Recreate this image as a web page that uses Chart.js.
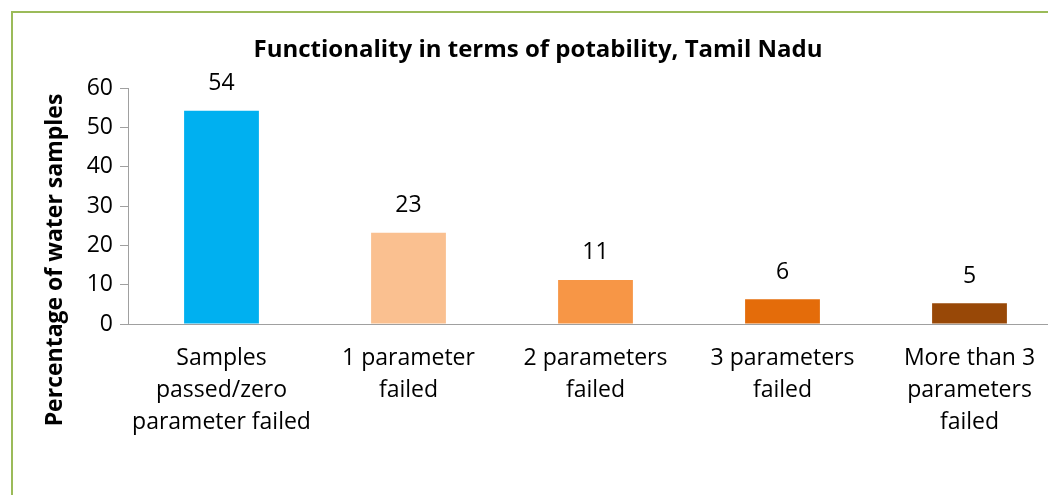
<!DOCTYPE html>
<html>
<head>
<meta charset="utf-8">
<script src="https://cdn.jsdelivr.net/npm/chart.js@4.4.0/dist/chart.umd.min.js"></script>
<style>
    html, body { margin: 0; padding: 0; background: #fff; overflow: hidden; }
    #frame {
        position: absolute; left: 11px; top: 11px; width: 1100px; height: 600px;
        border-top: 2px solid #9bbb59; border-left: 2px solid #9bbb59;
    }
    #wrap { position: absolute; left: 0; top: 0; width: 1076px; height: 495px; }
</style>
</head>
<body>
<div id="frame"></div>
<div id="wrap"><canvas id="chartContainer" width="1076" height="495"></canvas></div>
<script>
const categories = [
    ["Samples", "passed/zero", "parameter failed"],
    ["1 parameter", "failed"],
    ["2 parameters", "failed"],
    ["3 parameters", "failed"],
    ["More than 3", "parameters", "failed"],
];
const values = [54.2, 23.2, 11.2, 6.3, 5.3];
const barColors = ["#00b0f0", "#fac090", "#f79646", "#e46c0a", "#984807"];
const yTicks = [0, 10, 20, 30, 40, 50, 60];
const chartTitle = "Functionality in terms of potability, Tamil Nadu";
const yTitle = "Percentage of water samples";

const fontFamily = "'Open Sans', sans-serif";
const axisGray = "#a0a0a0";

// numbers above the bars
const barLabels = {
    id: "barLabels",
    afterDatasetsDraw(chart) {
        const ctx = chart.ctx;
        const meta = chart.getDatasetMeta(0);
        ctx.save();
        ctx.font = "23px " + fontFamily;
        ctx.fillStyle = "#000";
        ctx.textAlign = "center";
        ctx.textBaseline = "middle";
        meta.data.forEach((bar, i) => {
            ctx.fillText(String(Math.round(values[i])), bar.x, bar.y - 27);
        });
        ctx.restore();
    },
};

// rotated y axis title (excel centres it lower than chart.js would)
const yAxisTitle = {
    id: "yAxisTitle",
    afterDraw(chart) {
        const ctx = chart.ctx;
        ctx.save();
        ctx.translate(55, 260);
        ctx.rotate(-Math.PI / 2);
        ctx.font = "bold 23px " + fontFamily;
        ctx.fillStyle = "#000";
        ctx.textAlign = "center";
        ctx.textBaseline = "middle";
        ctx.fillText(yTitle, 0, 0);
        ctx.restore();
    },
};

const ctx = document.getElementById("chartContainer");
const chart = new Chart(ctx, {
    type: "bar",
    data: {
        labels: categories,
        datasets: [
            {
                data: values,
                backgroundColor: barColors,
                borderWidth: 0,
                barPercentage: 0.4,
                categoryPercentage: 1.0,
            },
        ],
    },
    options: {
        responsive: false,
        animation: false,
        devicePixelRatio: 1,
        layout: { padding: { left: 13, right: 13, top: 12, bottom: 0 } },
        plugins: {
            legend: { display: false },
            tooltip: { enabled: false },
            title: {
                display: true,
                text: chartTitle,
                color: "#000",
                font: { family: fontFamily, size: 24, weight: "bold", lineHeight: 1.2 },
                padding: { top: 24, bottom: 23.2 },
            },
        },
        scales: {
            x: {
                grid: { display: false, drawTicks: false },
                border: { display: true, color: axisGray, width: 1 },
                ticks: {
                    color: "#000",
                    font: { family: fontFamily, size: 23, lineHeight: 1.4 },
                    padding: 18,
                    maxRotation: 0,
                    autoSkip: false,
                },
                afterFit(scale) {
                    scale.height = 171;
                },
            },
            y: {
                min: 0,
                max: 60,
                afterBuildTicks(scale) {
                    scale.ticks = yTicks.map((v) => ({ value: v }));
                },
                ticks: {
                    color: "#000",
                    font: { family: fontFamily, size: 23 },
                    padding: 7,
                },
                grid: { drawOnChartArea: false, drawTicks: true, tickLength: 8, color: axisGray },
                border: { display: true, color: axisGray, width: 1 },
                afterFit(scale) {
                    scale.width = 115;
                },
            },
        },
    },
    plugins: [barLabels, yAxisTitle],
});
</script>
</body>
</html>
